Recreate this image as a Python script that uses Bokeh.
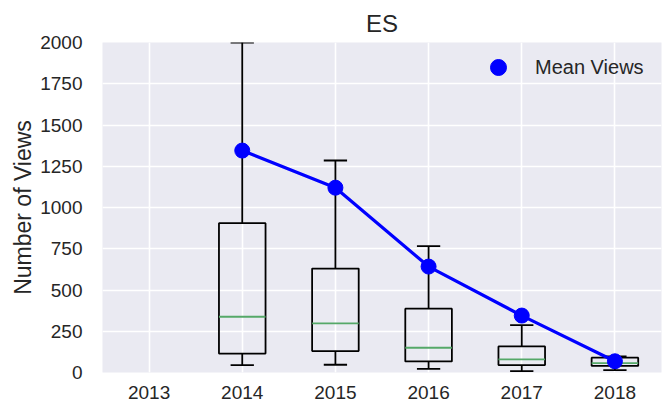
from bokeh.plotting import figure
from bokeh.models import FixedTicker, Legend, LegendItem, ColumnDataSource
from bokeh.embed import file_html
from bokeh.resources import INLINE

years = ["2013", "2014", "2015", "2016", "2017", "2018"]
# box statistics (2013 has no data)
box_years = ["2014", "2015", "2016", "2017", "2018"]
whisker_low = [45, 47, 22, 8, 15]
q1 = [115, 130, 67, 45, 40]
median = [338, 298, 150, 80, 57]
q3 = [905, 630, 387, 158, 90]
whisker_high = [2000, 1285, 766, 287, 97]
mean_views = [1345, 1120, 642, 345, 68]
y_ticks = [0, 250, 500, 750, 1000, 1250, 1500, 1750, 2000]

FONT = "Liberation Sans"
TXT = "#262626"

pos = [years.index(y) + 1 for y in box_years]
box_w = 0.5
cap_w = 0.25

src = ColumnDataSource(dict(
    x=pos, lo=whisker_low, q1=q1, med=median, q3=q3, hi=whisker_high,
    cap_l=[x - cap_w / 2 for x in pos], cap_r=[x + cap_w / 2 for x in pos],
    box_l=[x - box_w / 2 for x in pos], box_r=[x + box_w / 2 for x in pos],
    mean=mean_views,
))

p = figure(width=662, height=405, output_backend="svg", toolbar_location=None,
           x_range=(0.5, 6.5), y_range=(0, 2000),
           min_border_left=102, min_border_right=1, min_border_top=42, min_border_bottom=33)
p.background_fill_color = "#EAEAF2"
p.border_fill_color = "white"
p.outline_line_color = None

p.title.text = "ES"
p.title.align = "center"
p.title.text_font = FONT
p.title.text_font_size = "24px"
p.title.text_font_style = "normal"
p.title.text_color = TXT
p.title.standoff = 11

for ax in (p.xaxis, p.yaxis):
    ax.axis_line_color = None
    ax.major_tick_line_color = None
    ax.minor_tick_line_color = None
    ax.major_label_text_font = FONT
    ax.major_label_text_font_size = "19px"
    ax.major_label_text_color = TXT

p.xaxis.ticker = FixedTicker(ticks=list(range(1, len(years) + 1)))
p.xaxis.major_label_overrides = {i + 1: y for i, y in enumerate(years)}
p.xaxis.major_label_standoff = 7
p.yaxis.ticker = FixedTicker(ticks=y_ticks)
p.yaxis.major_label_standoff = 14
p.yaxis.axis_label = "Number of Views"
p.yaxis.axis_label_text_font = FONT
p.yaxis.axis_label_text_font_size = "23px"
p.yaxis.axis_label_text_font_style = "normal"
p.yaxis.axis_label_text_color = TXT
p.yaxis.axis_label_standoff = 1

p.grid.grid_line_color = "white"
p.grid.grid_line_width = 1.6
p.xgrid.ticker = FixedTicker(ticks=list(range(1, len(years) + 1)))
p.ygrid.ticker = FixedTicker(ticks=y_ticks)

lw = 1.8
# whiskers
p.segment(x0="x", y0="q3", x1="x", y1="hi", source=src, line_color="black", line_width=lw)
p.segment(x0="x", y0="lo", x1="x", y1="q1", source=src, line_color="black", line_width=lw)
# caps
p.segment(x0="cap_l", y0="hi", x1="cap_r", y1="hi", source=src, line_color="black", line_width=lw)
p.segment(x0="cap_l", y0="lo", x1="cap_r", y1="lo", source=src, line_color="black", line_width=lw)
# boxes
p.quad(left="box_l", right="box_r", bottom="q1", top="q3", source=src,
       fill_color=None, line_color="black", line_width=lw)
# medians
p.segment(x0="box_l", y0="med", x1="box_r", y1="med", source=src, line_color="#55A868", line_width=1.8)

# mean line
p.line(x="x", y="mean", source=src, line_color="blue", line_width=3.2)
pts = p.scatter(x="x", y="mean", source=src, size=15, fill_color="blue", line_color="blue")

legend = Legend(items=[LegendItem(label="Mean Views", renderers=[pts])],
                location=(376, 285))
legend.border_line_color = None
legend.background_fill_alpha = 0
legend.margin = 0
legend.padding = 0
legend.glyph_width = 40
legend.glyph_height = 40
legend.label_standoff = 17
legend.label_text_font = FONT
legend.label_text_font_size = "20px"
legend.label_text_color = TXT
p.add_layout(legend, "center")

open("out.html", "w").write(file_html(p, INLINE))
